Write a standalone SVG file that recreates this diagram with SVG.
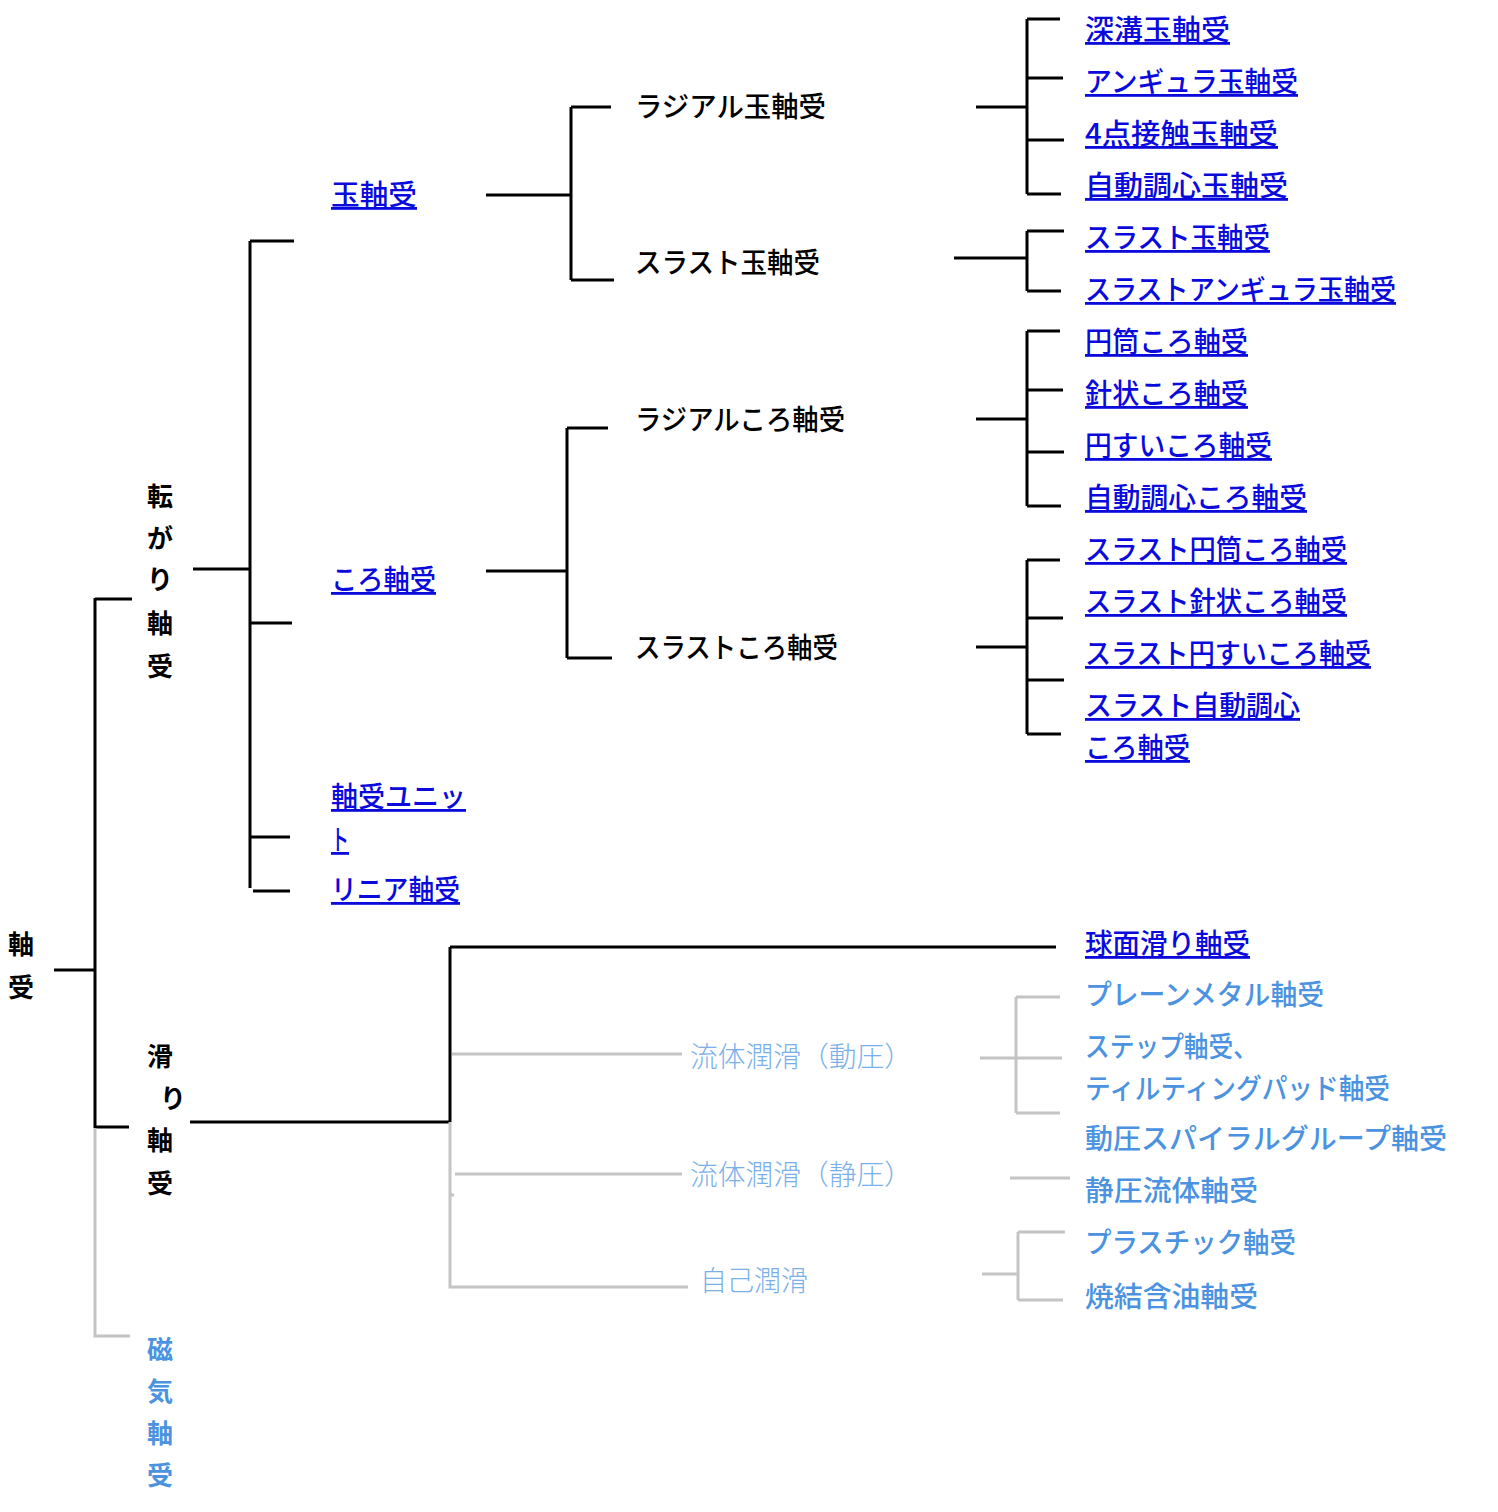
<svg xmlns="http://www.w3.org/2000/svg" width="1498" height="1512" viewBox="0 0 1498 1512">
<style>
text{font-family:"Noto Sans CJK JP","Noto Sans",sans-serif;font-size:28px;font-weight:500}
.k{fill:#000}
.v{fill:#000;font-size:26px;font-weight:bold}
.a{fill:#0a0adc;text-decoration:underline}
.lb{fill:#4b93e0}
.lm{fill:#7ab0ea;font-weight:300}
.vm{fill:#4b93e0;font-size:26px;font-weight:bold}
.b{stroke:#000;stroke-width:3;fill:none}
.g{stroke:#c4c4c4;stroke-width:3;fill:none}
</style>
<rect width="1498" height="1512" fill="#fff"/>
<g id="connectors">
<path class="b" d="M54 970H95M95 598V1128M95 599H132M95 1127H129"/>
<path class="g" d="M95 1128V1336H130"/>
<path class="b" d="M193 569H250M250 241V888M250 241H294M250 623H292M250 837H290M253 891H290"/>
<path class="b" d="M486 195H571M571 107V280M571 107H611M571 280H614"/>
<path class="b" d="M976 107H1027M1027 19V194M1027 19H1060M1027 78H1063M1027 140H1064M1027 194H1061"/>
<path class="b" d="M954 258H1027M1027 231V291M1027 231H1064M1027 291H1061"/>
<path class="b" d="M486 571H567M567 428V658M567 428H608M567 658H612"/>
<path class="b" d="M976 419H1027M1027 331V506M1027 331H1060M1027 390H1063M1027 452H1064M1027 506H1061"/>
<path class="b" d="M976 647H1027M1027 560V734M1027 560H1060M1027 618H1063M1027 680H1064M1027 734H1061"/>
<path class="b" d="M190 1122H450M450 947V1122M450 947H1056"/>
<path class="g" d="M450 1122V1287H688M452 1054H682M455 1174H682M450 1195H454"/>
<path class="g" d="M980 1058H1062M1016 997V1113M1016 997H1060M1016 1113H1060"/>
<path class="g" d="M1010 1178H1070"/>
<path class="g" d="M982 1274H1018M1018 1232V1300M1018 1232H1065M1018 1300H1063"/>
</g>
<g id="n-root"><text class="v" x="8" y="954">軸</text><text class="v" x="8" y="997">受</text></g>
<g id="n-rolling"><text class="v" x="147" y="506">転</text><text class="v" x="147" y="548">が</text><text class="v" x="147" y="589">り</text><text class="v" x="147" y="633">軸</text><text class="v" x="147" y="676">受</text></g>
<g id="n-sliding"><text class="v" x="147" y="1066">滑</text><text class="v" x="160" y="1108">り</text><text class="v" x="147" y="1150">軸</text><text class="v" x="147" y="1193">受</text></g>
<g id="n-magnetic"><text class="vm" x="147" y="1359">磁</text><text class="vm" x="147" y="1401">気</text><text class="vm" x="147" y="1443">軸</text><text class="vm" x="147" y="1485">受</text></g>
<g id="n-ball"><text class="a" x="331" y="205" textLength="86" lengthAdjust="spacingAndGlyphs">玉軸受</text></g>
<g id="n-roller"><text class="a" x="331" y="590" textLength="105" lengthAdjust="spacingAndGlyphs">ころ軸受</text></g>
<g id="n-unit"><text class="a" x="331" y="807" textLength="135" lengthAdjust="spacingAndGlyphs">軸受ユニッ</text><text class="a" x="331" y="850" textLength="18" lengthAdjust="spacingAndGlyphs">ト</text></g>
<g id="n-linear"><text class="a" x="331" y="900" textLength="129" lengthAdjust="spacingAndGlyphs">リニア軸受</text></g>
<g id="n-radial-ball"><text class="k" x="635" y="117" textLength="191" lengthAdjust="spacingAndGlyphs">ラジアル玉軸受</text></g>
<g id="n-thrust-ball"><text class="k" x="635" y="273" textLength="185" lengthAdjust="spacingAndGlyphs">スラスト玉軸受</text></g>
<g id="n-radial-roller"><text class="k" x="635" y="430" textLength="210" lengthAdjust="spacingAndGlyphs">ラジアルころ軸受</text></g>
<g id="n-thrust-roller"><text class="k" x="635" y="658" textLength="203" lengthAdjust="spacingAndGlyphs">スラストころ軸受</text></g>
<g id="n-leaf1"><text class="a" x="1085" y="40" textLength="145" lengthAdjust="spacingAndGlyphs">深溝玉軸受</text></g>
<g id="n-leaf2"><text class="a" x="1085" y="92" textLength="213" lengthAdjust="spacingAndGlyphs">アンギュラ玉軸受</text></g>
<g id="n-leaf3"><text class="a" x="1085" y="144" textLength="193" lengthAdjust="spacingAndGlyphs">4点接触玉軸受</text></g>
<g id="n-leaf4"><text class="a" x="1085" y="196" textLength="203" lengthAdjust="spacingAndGlyphs">自動調心玉軸受</text></g>
<g id="n-leaf5"><text class="a" x="1085" y="248" textLength="185" lengthAdjust="spacingAndGlyphs">スラスト玉軸受</text></g>
<g id="n-leaf6"><text class="a" x="1085" y="300" textLength="311" lengthAdjust="spacingAndGlyphs">スラストアンギュラ玉軸受</text></g>
<g id="n-leaf7"><text class="a" x="1085" y="352" textLength="163" lengthAdjust="spacingAndGlyphs">円筒ころ軸受</text></g>
<g id="n-leaf8"><text class="a" x="1085" y="404" textLength="163" lengthAdjust="spacingAndGlyphs">針状ころ軸受</text></g>
<g id="n-leaf9"><text class="a" x="1085" y="456" textLength="187" lengthAdjust="spacingAndGlyphs">円すいころ軸受</text></g>
<g id="n-leaf10"><text class="a" x="1085" y="508" textLength="222" lengthAdjust="spacingAndGlyphs">自動調心ころ軸受</text></g>
<g id="n-leaf11"><text class="a" x="1085" y="560" textLength="262" lengthAdjust="spacingAndGlyphs">スラスト円筒ころ軸受</text></g>
<g id="n-leaf12"><text class="a" x="1085" y="612" textLength="262" lengthAdjust="spacingAndGlyphs">スラスト針状ころ軸受</text></g>
<g id="n-leaf13"><text class="a" x="1085" y="664" textLength="286" lengthAdjust="spacingAndGlyphs">スラスト円すいころ軸受</text></g>
<g id="n-leaf14"><text class="a" x="1085" y="716" textLength="215" lengthAdjust="spacingAndGlyphs">スラスト自動調心</text><text class="a" x="1085" y="758" textLength="105" lengthAdjust="spacingAndGlyphs">ころ軸受</text></g>
<g id="n-spherical"><text class="a" x="1085" y="954" textLength="165" lengthAdjust="spacingAndGlyphs">球面滑り軸受</text></g>
<g id="n-hydro-dyn"><text class="lm" x="690" y="1067" textLength="222" lengthAdjust="spacingAndGlyphs">流体潤滑（動圧）</text></g>
<g id="n-hydro-stat"><text class="lm" x="690" y="1185" textLength="222" lengthAdjust="spacingAndGlyphs">流体潤滑（静圧）</text></g>
<g id="n-self"><text class="lm" x="700" y="1291" textLength="108" lengthAdjust="spacingAndGlyphs">自己潤滑</text></g>
<g id="n-plain"><text class="lb" x="1085" y="1005" textLength="239" lengthAdjust="spacingAndGlyphs">プレーンメタル軸受</text></g>
<g id="n-step"><text class="lb" x="1085" y="1057" textLength="173" lengthAdjust="spacingAndGlyphs">ステップ軸受、</text><text class="lb" x="1085" y="1099" textLength="305" lengthAdjust="spacingAndGlyphs">ティルティングパッド軸受</text></g>
<g id="n-spiral"><text class="lb" x="1085" y="1149" textLength="362" lengthAdjust="spacingAndGlyphs">動圧スパイラルグループ軸受</text></g>
<g id="n-static"><text class="lb" x="1085" y="1201" textLength="173" lengthAdjust="spacingAndGlyphs">静圧流体軸受</text></g>
<g id="n-plastic"><text class="lb" x="1085" y="1253" textLength="211" lengthAdjust="spacingAndGlyphs">プラスチック軸受</text></g>
<g id="n-sinter"><text class="lb" x="1085" y="1307" textLength="173" lengthAdjust="spacingAndGlyphs">焼結含油軸受</text></g>
</svg>
